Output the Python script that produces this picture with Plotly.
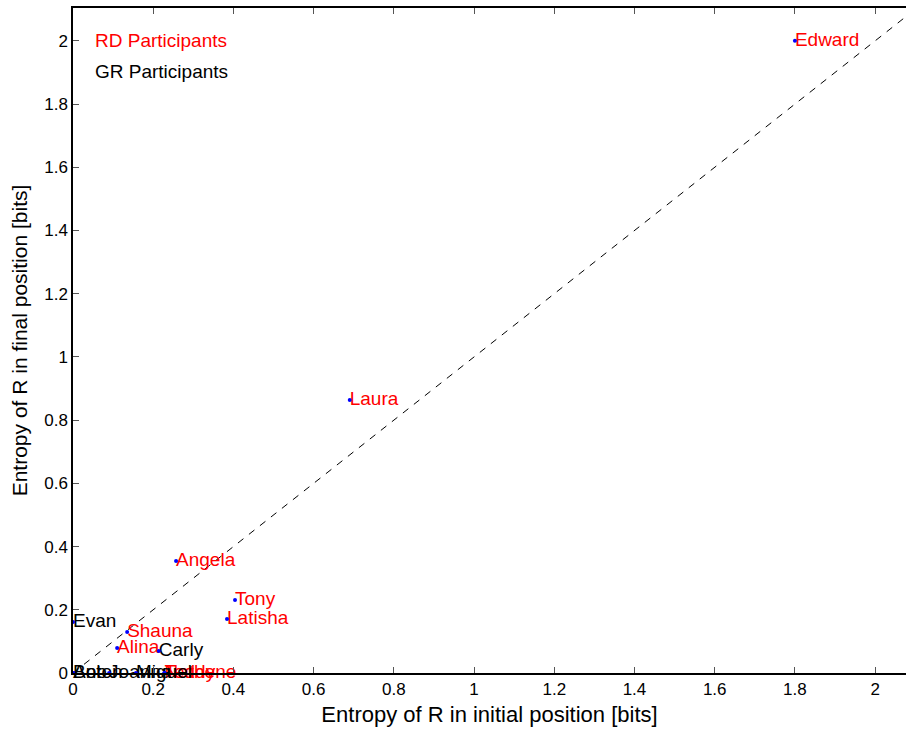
import plotly.graph_objects as go

# RD participants (red labels)
rd_names = ["Edward", "Laura", "Angela", "Tony", "Latisha", "Shauna", "Alina", "Teddy", "Nathene"]
rd_initial = [1.80, 0.69, 0.257, 0.404, 0.384, 0.135, 0.110, 0.228, 0.228]
rd_final = [2.00, 0.864, 0.354, 0.231, 0.171, 0.130, 0.079, 0.0, 0.0]

# GR participants (black labels)
gr_names = ["Evan", "Carly", "Bob", "Anton", "Joanna", "Miguel"]
gr_initial = [0.0, 0.214, 0.0, 0.0, 0.090, 0.157]
gr_final = [0.161, 0.070, 0.0, 0.0, 0.0, 0.0]

diag = [0.0, 2.2]
x_ticks = [0, 0.2, 0.4, 0.6, 0.8, 1.0, 1.2, 1.4, 1.6, 1.8, 2.0]
x_tick_labels = ["0", "0.2", "0.4", "0.6", "0.8", "1", "1.2", "1.4", "1.6", "1.8", "2"]
y_ticks = x_ticks
y_tick_labels = x_tick_labels

FONT = "Liberation Sans, Arial, sans-serif"

fig = go.Figure()

fig.add_trace(go.Scatter(
    x=diag, y=diag, mode="lines",
    line=dict(color="black", width=1, dash="7px,7px"),
    hoverinfo="skip", showlegend=False,
))

for names, xs, ys, col in [(rd_names, rd_initial, rd_final, "#ff0000"),
                           (gr_names, gr_initial, gr_final, "#000000")]:
    fig.add_trace(go.Scatter(
        x=xs, y=ys, mode="text", text=names, textposition="middle right",
        textfont=dict(color=col, size=19, family=FONT),
        cliponaxis=False, showlegend=False,
    ))

fig.add_trace(go.Scatter(
    x=rd_initial + gr_initial, y=rd_final + gr_final, mode="markers",
    marker=dict(color="#0000ff", size=4),
    cliponaxis=False, showlegend=False,
))

fig.add_annotation(x=0.05, y=2.0, xref="x", yref="y", text="RD Participants",
                   showarrow=False, xanchor="left", yanchor="middle",
                   font=dict(color="#ff0000", size=19, family=FONT))
fig.add_annotation(x=0.05, y=1.902, xref="x", yref="y", text="GR Participants",
                   showarrow=False, xanchor="left", yanchor="middle",
                   font=dict(color="#000000", size=19, family=FONT))

fig.update_layout(
    width=906, height=731,
    margin=dict(l=73, r=0, t=8, b=58),
    paper_bgcolor="white", plot_bgcolor="white",
    font=dict(family=FONT, color="black", size=17),
    xaxis=dict(
        range=[0, 2.077], tickvals=x_ticks, ticktext=x_tick_labels,
        ticks="inside", ticklen=6, tickcolor="#555", showgrid=False, zeroline=False,
        showline=True, linecolor="black", linewidth=1.5, mirror="ticks",
        title=dict(text="Entropy of R in initial position [bits]", font=dict(size=22), standoff=8),
        tickfont=dict(size=17), automargin=False,
    ),
    yaxis=dict(
        range=[0, 2.104], tickvals=y_ticks, ticktext=y_tick_labels,
        ticks="inside", ticklen=6, tickcolor="#555", showgrid=False, zeroline=False,
        showline=True, linecolor="black", linewidth=1.5, mirror=False,
        title=dict(text="Entropy of R in final position [bits]", font=dict(size=21), standoff=11),
        tickfont=dict(size=17), automargin=False,
    ),
)

fig.write_html("out.html", config={"displayModeBar": False},
               post_script="document.body.style.margin='0';document.body.style.overflow='hidden';")
